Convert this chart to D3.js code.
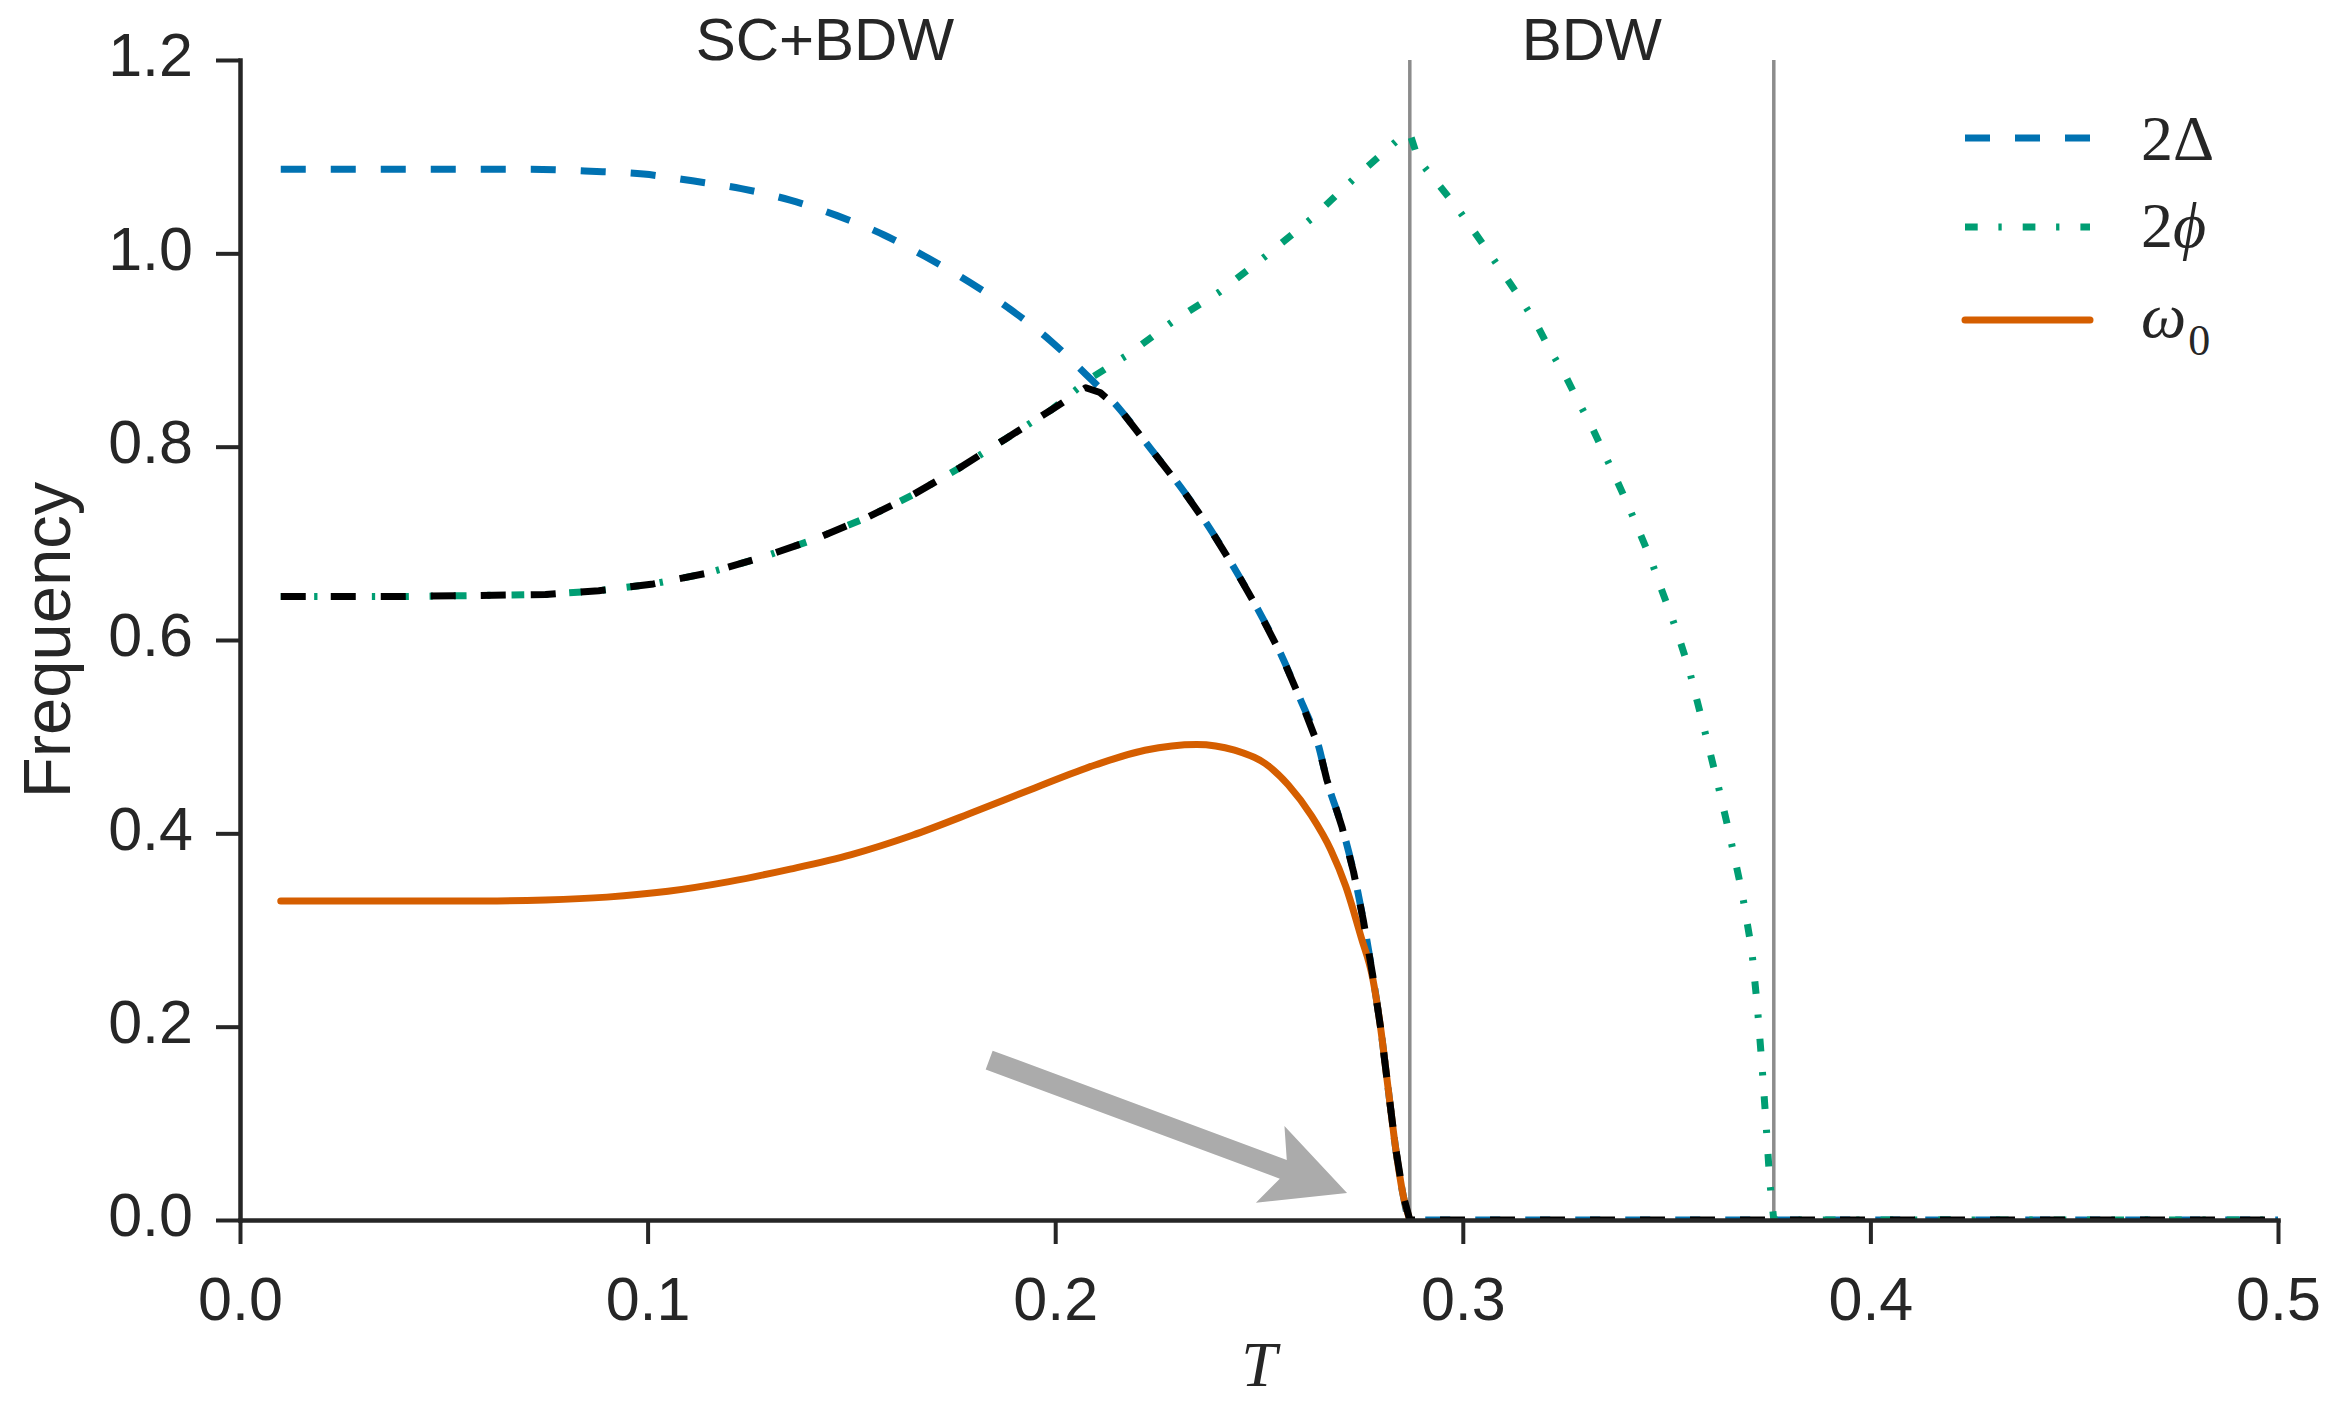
<!doctype html>
<html lang="en">
<head>
  <meta charset="utf-8">
  <title>Frequency vs T</title>
  <style>
    body { margin: 0; background: #fff; }
    text { fill: #262626; }
  </style>
</head>
<body>
<div id="mychart"></div>
<script src="https://d3js.org/d3.v7.min.js"></script>
<script>
// values
var tDelta = [0.010, 0.040, 0.071, 0.086, 0.099, 0.111, 0.123, 0.135, 0.1465, 0.158, 0.168, 0.179, 0.189, 0.199, 0.2075, 0.216, 0.2234, 0.231, 0.238, 0.244, 0.2497, 0.2553, 0.260, 0.2647, 0.2666, 0.2704, 0.2732, 0.2756, 0.2779, 0.2798, 0.2816, 0.2835, 0.2854, 0.287, 0.300, 0.400, 0.500];
var delta2 = [1.087, 1.087, 1.087, 1.085, 1.082, 1.075, 1.067, 1.055, 1.039, 1.019, 0.997, 0.970, 0.942, 0.909, 0.875, 0.838, 0.798, 0.757, 0.715, 0.674, 0.632, 0.586, 0.540, 0.489, 0.456, 0.406, 0.360, 0.310, 0.253, 0.200, 0.139, 0.075, 0.025, 0.0, 0.0, 0.0, 0.0];

var tPhi = [0.010, 0.040, 0.075, 0.088, 0.1014, 0.1145, 0.1277, 0.1408, 0.154, 0.165, 0.1765, 0.1878, 0.199, 0.2084, 0.2178, 0.229, 0.2403, 0.2516, 0.2629, 0.274, 0.2845, 0.287, 0.2891, 0.2935, 0.2981, 0.3022, 0.3062, 0.3103, 0.3145, 0.3182, 0.3214, 0.3251, 0.3283, 0.3316, 0.3347, 0.3377, 0.3406, 0.3434, 0.3461, 0.3485, 0.3510, 0.3533, 0.3555, 0.3590, 0.3624, 0.3655, 0.3685, 0.3709, 0.3723, 0.3734, 0.3744, 0.3753, 0.3763, 0.400, 0.500];
var phi2 = [0.645, 0.645, 0.647, 0.651, 0.658, 0.669, 0.685, 0.704, 0.727, 0.750, 0.778, 0.808, 0.838, 0.870, 0.895, 0.930, 0.960, 0.997, 1.036, 1.080, 1.119, 1.124, 1.097, 1.074, 1.050, 1.026, 1.002, 0.977, 0.951, 0.926, 0.900, 0.874, 0.847, 0.821, 0.793, 0.766, 0.739, 0.711, 0.684, 0.655, 0.627, 0.599, 0.570, 0.512, 0.454, 0.398, 0.339, 0.279, 0.219, 0.160, 0.100, 0.040, 0.0, 0.0, 0.0];

var tOmega = [0.010, 0.040, 0.060, 0.075, 0.090, 0.105, 0.120, 0.135, 0.150, 0.165, 0.180, 0.195, 0.210, 0.222, 0.2347, 0.244, 0.2516, 0.2572, 0.2629, 0.2676, 0.2713, 0.2751, 0.2779, 0.2798, 0.2816, 0.2835, 0.2854, 0.287];
var omega0 = [0.330, 0.330, 0.330, 0.331, 0.334, 0.340, 0.350, 0.363, 0.378, 0.398, 0.422, 0.447, 0.471, 0.486, 0.492, 0.486, 0.472, 0.450, 0.418, 0.383, 0.345, 0.292, 0.250, 0.200, 0.139, 0.075, 0.025, 0.0];

var tLow = [0.010, 0.040, 0.075, 0.088, 0.1014, 0.1145, 0.1277, 0.1408, 0.154, 0.165, 0.1765, 0.1878, 0.199, 0.2075, 0.211, 0.216, 0.2234, 0.231, 0.238, 0.244, 0.2497, 0.2553, 0.260, 0.2647, 0.2666, 0.2704, 0.2732, 0.2756, 0.2779, 0.2798, 0.2816, 0.2835, 0.2854, 0.287, 0.300, 0.400, 0.500];
var lowMode = [0.645, 0.645, 0.647, 0.651, 0.658, 0.669, 0.685, 0.704, 0.727, 0.750, 0.778, 0.808, 0.838, 0.861, 0.856, 0.838, 0.798, 0.757, 0.715, 0.674, 0.632, 0.586, 0.540, 0.489, 0.456, 0.406, 0.360, 0.310, 0.253, 0.200, 0.139, 0.075, 0.025, 0.0, 0.0, 0.0, 0.0];

var transitions = [0.287, 0.3763];
var regionLabels = ["SC+BDW", "BDW"];
var xTicks = [0.0, 0.1, 0.2, 0.3, 0.4, 0.5];
var yTicks = [0.0, 0.2, 0.4, 0.6, 0.8, 1.0, 1.2];
var arrowTail = [0.1838, 0.1655];
var arrowTip = [0.2716, 0.028];

var width = 2348;
var height = 1402;
var font = "'Liberation Sans', Arial, Helvetica, sans-serif";
var mathFont = "'Liberation Serif', 'Times New Roman', serif";

var svg = d3.select("#mychart").append("svg")
  .attr("width", width)
  .attr("height", height)
  .style("display", "block");

var x = d3.scaleLinear().domain([0, 0.5]).range([240, 2278]);
var y = d3.scaleLinear().domain([0, 1.2]).range([1220, 60]);

svg.append("defs").append("clipPath").attr("id", "plotclip")
  .append("rect")
  .attr("x", x(0)).attr("y", y(1.2))
  .attr("width", x(0.5) - x(0)).attr("height", y(0) - y(1.2));

// vertical phase boundaries
svg.selectAll("line.vline").data(transitions)
  .enter().append("line")
  .attr("class", "vline")
  .attr("x1", function(d) { return x(d); })
  .attr("x2", function(d) { return x(d); })
  .attr("y1", y(0)).attr("y2", y(1.2))
  .attr("stroke", "#8c8c8c")
  .attr("stroke-width", 3.5);

var zip = function(a, b) { return a.map(function(v, i) { return [v, b[i]]; }); };

var series = [
  { pts: zip(tDelta, delta2), color: "#0072B2", dash: "25,25", cap: "butt", curve: d3.curveMonotoneX },
  { pts: zip(tPhi, phi2), color: "#009E73", dash: "12.7,20.7,3.3,21", cap: "butt", curve: d3.curveLinear },
  { pts: zip(tOmega, omega0), color: "#D55E00", dash: null, cap: "round", curve: d3.curveMonotoneX },
  { pts: zip(tLow, lowMode), color: "#000000", dash: "25,25", cap: "butt", curve: d3.curveLinear }
];

var plot = svg.append("g").attr("clip-path", "url(#plotclip)");
series.forEach(function(s) {
  var line = d3.line()
    .x(function(d) { return x(d[0]); })
    .y(function(d) { return y(d[1]); })
    .curve(s.curve);
  plot.append("path")
    .attr("d", line(s.pts))
    .attr("fill", "none")
    .attr("stroke", s.color)
    .attr("stroke-width", 7)
    .attr("stroke-linecap", s.cap)
    .attr("stroke-linejoin", "round")
    .attr("stroke-dasharray", s.dash);
});

// gray arrow pointing to the transition
var renderArrow = function() {
  var x0 = x(arrowTail[0]), y0 = y(arrowTail[1]);
  var x1 = x(arrowTip[0]), y1 = y(arrowTip[1]);
  var len = Math.hypot(x1 - x0, y1 - y0);
  var ux = (x1 - x0) / len, uy = (y1 - y0) / len;
  var nx = -uy, ny = ux;
  var shaft = 10, head = 41, headLen = 82, joint = 68;
  var p = function(a, b) { return [x0 + ux * a + nx * b, y0 + uy * a + ny * b]; };
  var pts = [p(0, -shaft), p(len - joint, -shaft), p(len - headLen, -head), p(len, 0),
             p(len - headLen, head), p(len - joint, shaft), p(0, shaft)];
  svg.append("polygon")
    .attr("points", pts.map(function(q) { return q.join(","); }).join(" "))
    .attr("fill", "#ababab");
};
renderArrow();

// axes
var yAxis = svg.append("g")
  .attr("transform", "translate(" + x(0) + ",0)")
  .call(d3.axisLeft(y).tickValues(yTicks).tickFormat(d3.format(".1f"))
    .tickSize(24).tickSizeOuter(0).tickPadding(23));
var xAxis = svg.append("g")
  .attr("transform", "translate(0," + y(0) + ")")
  .call(d3.axisBottom(x).tickValues(xTicks).tickFormat(d3.format(".1f"))
    .tickSize(24).tickSizeOuter(0).tickPadding(33));

[xAxis, yAxis].forEach(function(g) {
  g.select(".domain").attr("stroke", "#262626").attr("stroke-width", 4.5).attr("stroke-linecap", "square");
  g.selectAll(".tick line").attr("stroke", "#262626").attr("stroke-width", 4);
  g.selectAll(".tick text")
    .style("font-family", font)
    .style("font-size", "61px")
    .attr("fill", "#262626");
});
yAxis.selectAll(".tick text").attr("dy", "0.26em");

svg.append("text")
  .attr("transform", "translate(70," + ((y(0) + y(1.2)) / 2) + ") rotate(-90)")
  .attr("text-anchor", "middle")
  .style("font-family", font)
  .style("font-size", "67px")
  .text("Frequency");

svg.append("text")
  .attr("x", (x(0) + x(0.5)) / 2)
  .attr("y", 1386)
  .attr("text-anchor", "middle")
  .style("font-family", mathFont)
  .style("font-style", "italic")
  .style("font-size", "64px")
  .text("T");

// region labels centred between boundaries
var regionCentres = [transitions[0] / 2, (transitions[0] + transitions[1]) / 2];
svg.selectAll("text.region").data(regionLabels)
  .enter().append("text")
  .attr("class", "region")
  .attr("x", function(d, i) { return x(regionCentres[i]); })
  .attr("y", y(1.2))
  .attr("text-anchor", "middle")
  .style("font-family", font)
  .style("font-size", "60px")
  .text(function(d) { return d; });

// legend
var legendY = [138, 227, 320];
var legend = svg.append("g");
series.slice(0, 3).forEach(function(s, i) {
  legend.append("line")
    .attr("x1", 1965).attr("x2", 2090)
    .attr("y1", legendY[i]).attr("y2", legendY[i])
    .attr("stroke", s.color)
    .attr("stroke-width", 7)
    .attr("stroke-linecap", s.cap)
    .attr("stroke-dasharray", s.dash);
});
var lt = legend.append("g")
  .style("font-family", mathFont)
  .style("font-size", "64px");
var t1 = lt.append("text").attr("x", 2141).attr("y", 160);
t1.append("tspan").text("2\u0394");
var t2 = lt.append("text").attr("x", 2141).attr("y", 247);
t2.append("tspan").text("2");
t2.append("tspan").style("font-style", "italic").text("\u03d5");
var t3 = lt.append("text").attr("x", 2141).attr("y", 337);
t3.append("tspan").style("font-style", "italic").text("\u03c9");
t3.append("tspan").attr("dy", 18).attr("dx", 2).style("font-size", "44px").text("0");
</script>
</body>
</html>
